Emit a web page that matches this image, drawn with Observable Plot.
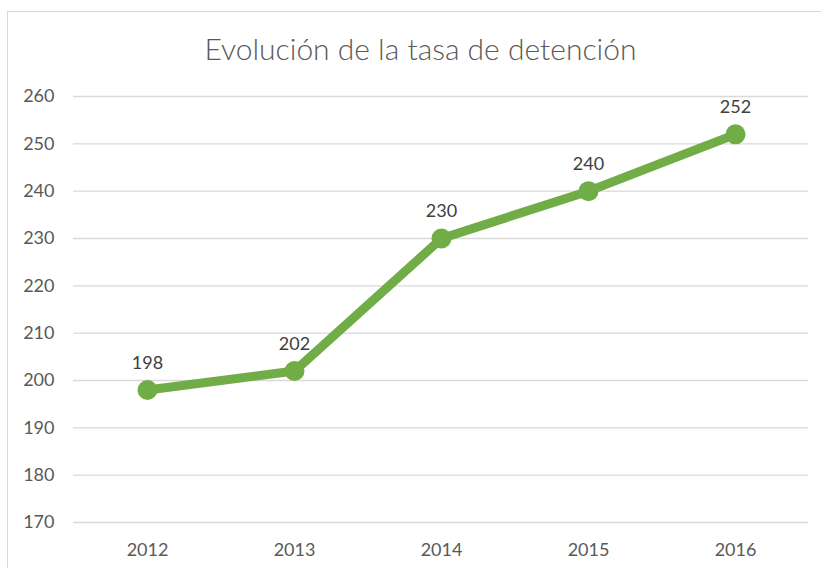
<!DOCTYPE html>
<html>
<head>
<meta charset="utf-8">
<script src="https://cdn.jsdelivr.net/npm/d3@7"></script>
<script src="https://cdn.jsdelivr.net/npm/@observablehq/plot@0.6"></script>
<style>
  html, body { margin: 0; padding: 0; background: #fff; overflow: hidden; }
  #wrap { position: relative; width: 821px; height: 568px; overflow: hidden; font-family: Lato, "Open Sans", sans-serif; }
  #frame { position: absolute; left: 7px; top: 11px; width: 900px; height: 900px; border: 1px solid #d9d9d9; box-sizing: border-box; }
  #title { position: relative; height: 64px; padding-top: 16px; line-height: 64px; text-align: center; padding-left: 20px; box-sizing: content-box;
           font-size: 30px; font-weight: 300; color: #595959; }
  #chart { position: relative; }
</style>
</head>
<body>
<div id="wrap">
  <div id="frame"></div>
  <div id="title">Evolución de la tasa de detención</div>
  <div id="chart"></div>
</div>
<script>
const years = ["2012", "2013", "2014", "2015", "2016"];
const values = [198, 202, 230, 240, 252];
const yTicks = [170, 180, 190, 200, 210, 220, 230, 240, 250, 260];

const data = years.map((year, i) => ({year, value: values[i]}));

const chart = Plot.plot({
  width: 821,
  height: 488,
  marginLeft: 73,
  marginRight: 13,
  marginTop: 16,
  marginBottom: 46,
  style: { fontFamily: "Lato, 'Open Sans', sans-serif", background: "transparent" },
  x: { type: "point", domain: years, padding: 0.5, label: null },
  y: { domain: [170, 260], label: null },
  marks: [
    Plot.gridY(yTicks, { stroke: "#d9d9d9", strokeOpacity: 1, strokeWidth: 1.3 }),
    Plot.axisY(yTicks, { tickSize: 0, tickPadding: 19, fontSize: 18, fill: "#595959", label: null }),
    Plot.axisX({ tickSize: 0, tickPadding: 21, fontSize: 18, fill: "#595959", label: null }),
    Plot.line(data, { x: "year", y: "value", stroke: "#70AD47", strokeWidth: 9, strokeLinejoin: "round" }),
    Plot.dot(data, { x: "year", y: "value", r: 10, fill: "#70AD47", stroke: null }),
    Plot.text(data, { x: "year", y: "value", text: d => String(d.value), dy: -27, fontSize: 18, fill: "#404040" })
  ]
});
document.getElementById("chart").appendChild(chart);
</script>
</body>
</html>
